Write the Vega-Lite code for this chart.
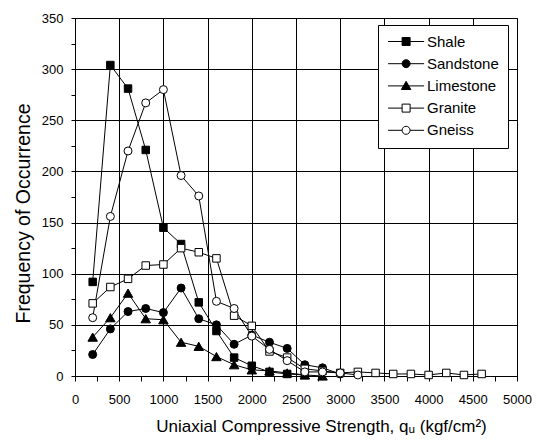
{
  "$schema": "https://vega.github.io/schema/vega-lite/v6.json",
  "width": 442,
  "height": 358,
  "autosize": "none",
  "padding": {"left": 75, "top": 18, "right": 20, "bottom": 66},
  "background": "white",
  "config": {"view": {"stroke": "black", "strokeWidth": 1}, "font": "Liberation Sans"},
  "data": {"values": [
    {"rock": "Shale", "q": 200, "f": 92}, {"rock": "Shale", "q": 400, "f": 304}, {"rock": "Shale", "q": 600, "f": 281}, {"rock": "Shale", "q": 800, "f": 221}, {"rock": "Shale", "q": 1000, "f": 145}, {"rock": "Shale", "q": 1200, "f": 129}, {"rock": "Shale", "q": 1400, "f": 72}, {"rock": "Shale", "q": 1600, "f": 44}, {"rock": "Shale", "q": 1800, "f": 18}, {"rock": "Shale", "q": 2000, "f": 10}, {"rock": "Shale", "q": 2200, "f": 4}, {"rock": "Shale", "q": 2400, "f": 2}, {"rock": "Shale", "q": 2600, "f": 1},
    {"rock": "Sandstone", "q": 200, "f": 21}, {"rock": "Sandstone", "q": 400, "f": 46}, {"rock": "Sandstone", "q": 600, "f": 63}, {"rock": "Sandstone", "q": 800, "f": 66}, {"rock": "Sandstone", "q": 1000, "f": 62}, {"rock": "Sandstone", "q": 1200, "f": 86}, {"rock": "Sandstone", "q": 1400, "f": 56}, {"rock": "Sandstone", "q": 1600, "f": 50}, {"rock": "Sandstone", "q": 1800, "f": 31}, {"rock": "Sandstone", "q": 2000, "f": 40}, {"rock": "Sandstone", "q": 2200, "f": 33}, {"rock": "Sandstone", "q": 2400, "f": 27}, {"rock": "Sandstone", "q": 2600, "f": 11}, {"rock": "Sandstone", "q": 2800, "f": 8}, {"rock": "Sandstone", "q": 3000, "f": 2},
    {"rock": "Limestone", "q": 200, "f": 38}, {"rock": "Limestone", "q": 400, "f": 57}, {"rock": "Limestone", "q": 600, "f": 81}, {"rock": "Limestone", "q": 800, "f": 56}, {"rock": "Limestone", "q": 1000, "f": 55}, {"rock": "Limestone", "q": 1200, "f": 33}, {"rock": "Limestone", "q": 1400, "f": 29}, {"rock": "Limestone", "q": 1600, "f": 19}, {"rock": "Limestone", "q": 1800, "f": 11}, {"rock": "Limestone", "q": 2000, "f": 6}, {"rock": "Limestone", "q": 2200, "f": 5}, {"rock": "Limestone", "q": 2400, "f": 3}, {"rock": "Limestone", "q": 2600, "f": 1}, {"rock": "Limestone", "q": 2800, "f": 0},
    {"rock": "Granite", "q": 200, "f": 71}, {"rock": "Granite", "q": 400, "f": 87}, {"rock": "Granite", "q": 600, "f": 95}, {"rock": "Granite", "q": 800, "f": 108}, {"rock": "Granite", "q": 1000, "f": 109}, {"rock": "Granite", "q": 1200, "f": 125}, {"rock": "Granite", "q": 1400, "f": 121}, {"rock": "Granite", "q": 1600, "f": 115}, {"rock": "Granite", "q": 1800, "f": 59}, {"rock": "Granite", "q": 2000, "f": 49}, {"rock": "Granite", "q": 2200, "f": 24}, {"rock": "Granite", "q": 2400, "f": 18}, {"rock": "Granite", "q": 2600, "f": 7}, {"rock": "Granite", "q": 2800, "f": 5}, {"rock": "Granite", "q": 3000, "f": 3}, {"rock": "Granite", "q": 3200, "f": 4}, {"rock": "Granite", "q": 3400, "f": 3}, {"rock": "Granite", "q": 3600, "f": 2}, {"rock": "Granite", "q": 3800, "f": 2}, {"rock": "Granite", "q": 4000, "f": 1}, {"rock": "Granite", "q": 4200, "f": 3}, {"rock": "Granite", "q": 4400, "f": 1}, {"rock": "Granite", "q": 4600, "f": 2},
    {"rock": "Gneiss", "q": 200, "f": 57}, {"rock": "Gneiss", "q": 400, "f": 156}, {"rock": "Gneiss", "q": 600, "f": 220}, {"rock": "Gneiss", "q": 800, "f": 267}, {"rock": "Gneiss", "q": 1000, "f": 280}, {"rock": "Gneiss", "q": 1200, "f": 196}, {"rock": "Gneiss", "q": 1400, "f": 176}, {"rock": "Gneiss", "q": 1600, "f": 73}, {"rock": "Gneiss", "q": 1800, "f": 66}, {"rock": "Gneiss", "q": 2000, "f": 39}, {"rock": "Gneiss", "q": 2200, "f": 26}, {"rock": "Gneiss", "q": 2400, "f": 15}, {"rock": "Gneiss", "q": 2600, "f": 4}, {"rock": "Gneiss", "q": 2800, "f": 4}, {"rock": "Gneiss", "q": 3000, "f": 3}, {"rock": "Gneiss", "q": 3200, "f": 1}
  ]},
  "encoding": {
    "x": {
      "field": "q", "type": "quantitative",
      "scale": {"domain": [0, 5000], "nice": false},
      "axis": {
        "values": [0,250,500,750,1000,1250,1500,1750,2000,2250,2500,2750,3000,3250,3500,3750,4000,4250,4500,4750,5000],
        "format": "d",
        "labelExpr": "datum.value % 500 === 0 ? datum.label : ''",
        "labelFlush": false,
        "grid": true,
        "gridColor": "black",
        "gridWidth": 1,
        "gridOpacity": {"condition": {"test": "datum.value % 500 === 0", "value": 1}, "value": 0},
        "domain": false,
        "tickColor": "black", "tickSize": 5, "tickWidth": 1,
        "labelFont": "Liberation Sans", "labelFontSize": 13, "labelColor": "black", "labelPadding": 12,
        "labelOverlap": false,
        "title": "Uniaxial Compressive Strength, qᵤ  (kgf/cm²)",
        "titleFont": "Liberation Sans", "titleFontSize": 17, "titleFontWeight": "normal", "titleColor": "black",
        "titlePadding": 12, "titleX": 246
      }
    },
    "y": {
      "field": "f", "type": "quantitative",
      "scale": {"domain": [0, 350], "nice": false},
      "axis": {
        "values": [0,25,50,75,100,125,150,175,200,225,250,275,300,325,350],
        "labelExpr": "datum.value % 50 === 0 ? datum.label : ''",
        "labelFlush": false,
        "grid": true,
        "gridColor": "black",
        "gridWidth": 1,
        "gridOpacity": {"condition": {"test": "datum.value % 50 === 0", "value": 1}, "value": 0},
        "domain": false,
        "tickColor": "black", "tickSize": 4, "tickWidth": 1,
        "labelFont": "Liberation Sans", "labelFontSize": 13, "labelColor": "black", "labelPadding": 8,
        "labelOverlap": false,
        "title": "Frequency of Occurrence",
        "titleFont": "Liberation Sans", "titleFontSize": 19.5, "titleFontWeight": "normal", "titleColor": "black",
        "titlePadding": 8, "titleY": 195
      }
    }
  },
  "layer": [
    {
      "mark": {"type": "line", "color": "black", "strokeWidth": 1},
      "encoding": {"detail": {"field": "rock", "type": "nominal"}}
    },
    {
      "transform": [{"filter": "datum.rock === 'Shale'"}],
      "mark": {"type": "point", "shape": "square", "filled": true, "fill": "black", "stroke": "black", "strokeWidth": 1, "opacity": 1, "size": 56},
      "encoding": {}
    },
    {
      "transform": [{"filter": "datum.rock === 'Sandstone'"}],
      "mark": {"type": "point", "shape": "circle", "filled": true, "fill": "black", "stroke": "black", "strokeWidth": 1, "opacity": 1, "size": 64},
      "encoding": {}
    },
    {
      "transform": [{"filter": "datum.rock === 'Limestone'"}],
      "mark": {"type": "point", "shape": "triangle-up", "filled": true, "fill": "black", "stroke": "black", "strokeWidth": 1, "opacity": 1, "size": 90},
      "encoding": {}
    },
    {
      "transform": [{"filter": "datum.rock === 'Granite'"}],
      "mark": {"type": "point", "shape": "square", "filled": true, "fill": "white", "stroke": "black", "strokeWidth": 1, "opacity": 1, "size": 56},
      "encoding": {}
    },
    {
      "transform": [{"filter": "datum.rock === 'Gneiss'"}],
      "mark": {"type": "point", "shape": "circle", "filled": true, "fill": "white", "stroke": "black", "strokeWidth": 1, "opacity": 1, "size": 64},
      "encoding": {}
    },
    {
      "mark": {"type": "point", "filled": true, "opacity": 0, "size": 64},
      "encoding": {
        "shape": {
          "field": "rock", "type": "nominal",
          "scale": {"domain": ["Shale", "Sandstone", "Limestone", "Granite", "Gneiss"], "range": [
            "M-1.6,0H1.9M3.9,0H7.4M1.9,-1H3.9V1H1.9Z",
            "M-1.6,0H7.4M1.9,0A1,1,0,1,1,3.9,0A1,1,0,1,1,1.9,0Z",
            "M-1.6,0H7.4M2.9,-1.15L4.08,0.9H1.72Z",
            "M-1.6,0H1.9M3.9,0H7.4M1.9,-1H3.9V1H1.9Z",
            "M-1.6,0H1.9M3.9,0H7.4M1.9,0A1,1,0,1,1,3.9,0A1,1,0,1,1,1.9,0Z"
          ]},
          "legend": {
            "title": null,
            "orient": "none", "legendX": 303, "legendY": 7,
            "padding": 9,
            "strokeColor": "black", "fillColor": "white",
            "labelFont": "Liberation Sans", "labelFontSize": 15, "labelColor": "black",
            "labelOffset": 25, "rowPadding": 6.2,
            "symbolSize": 64, "symbolStrokeWidth": 1, "symbolOpacity": 1
          }
        },
        "fill": {
          "field": "rock", "type": "nominal",
          "scale": {"domain": ["Shale", "Sandstone", "Limestone", "Granite", "Gneiss"], "range": ["black", "black", "black", "white", "white"]}
        },
        "stroke": {
          "field": "rock", "type": "nominal",
          "scale": {"domain": ["Shale", "Sandstone", "Limestone", "Granite", "Gneiss"], "range": ["black", "black", "black", "black", "black"]}
        }
      }
    }
  ]
}
